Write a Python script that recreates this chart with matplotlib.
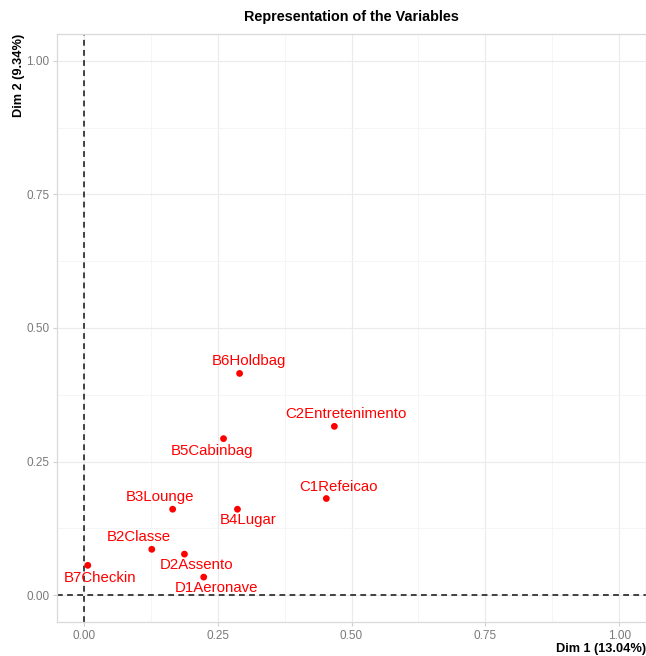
import matplotlib
matplotlib.use("Agg")
import matplotlib.pyplot as plt
from matplotlib.ticker import MultipleLocator

plt.rcParams['font.family'] = ['Liberation Sans', 'DejaVu Sans']

# variable coordinates
names = ['B6Holdbag', 'C2Entretenimento', 'B5Cabinbag', 'C1Refeicao', 'B3Lounge',
         'B4Lugar', 'B2Classe', 'D2Assento', 'B7Checkin', 'D1Aeronave']
dim1 = [0.291, 0.468, 0.261, 0.453, 0.166, 0.287, 0.127, 0.188, 0.0075, 0.224]
dim2 = [0.415, 0.316, 0.293, 0.181, 0.161, 0.161, 0.086, 0.077, 0.056, 0.034]
# label nudges (points), like ggrepel put them
nudge = [(7, 9), (8, 9), (-8, -9), (9, 8), (-9, 9),
         (8, -8), (-9, 9), (9, -8), (9, -9), (9, -8)]

tick_vals = [0.00, 0.25, 0.50, 0.75, 1.00]
tick_labs = ['0.00', '0.25', '0.50', '0.75', '1.00']

fig = plt.figure(figsize=(6.46, 6.56), dpi=100)
ax = fig.add_axes([57/646, 34/656, 589/646, 588/656])

ax.set_xlim(-0.05, 1.05)
ax.set_ylim(-0.05, 1.05)
ax.set_xticks(tick_vals)
ax.set_xticklabels(tick_labs)
ax.set_yticks(tick_vals)
ax.set_yticklabels(tick_labs)
ax.xaxis.set_minor_locator(MultipleLocator(0.125))
ax.yaxis.set_minor_locator(MultipleLocator(0.125))

ax.grid(which='major', color='#ebebeb', lw=0.8)
ax.grid(which='minor', color='#f4f4f4', lw=0.6)
ax.set_axisbelow(True)
for s in ax.spines.values():
    s.set_color('#d9d9d9')
    s.set_linewidth(0.9)
ax.tick_params(which='major', length=3, color='#d0d0d0', labelcolor='#7a7a7a', labelsize=8.5, pad=2.5)
ax.tick_params(which='minor', length=0)

ax.axhline(0, color='#333333', ls=(0, (3.2, 2.4)), lw=1.3, zorder=2)
ax.axvline(0, color='#333333', ls=(0, (3.2, 2.4)), lw=1.3, zorder=2)

ax.scatter(dim1, dim2, s=24, color='#ff0000', zorder=3, edgecolors='none')
for n, x, y, (dx, dy) in zip(names, dim1, dim2, nudge):
    ax.annotate(n, (x, y), xytext=(dx, dy), textcoords='offset points',
                ha='center', va='center', color='#ff0000', fontsize=10.8, zorder=4)

ax.set_title('Representation of the Variables', fontsize=10.4, fontweight='bold', pad=9)
ax.set_xlabel('Dim 1 (13.04%)', fontsize=9.2, fontweight='bold', loc='right', labelpad=1)
ax.set_ylabel('Dim 2 (9.34%)', fontsize=9.2, fontweight='bold', loc='top', labelpad=1)

fig.savefig('out.png', dpi=100)
